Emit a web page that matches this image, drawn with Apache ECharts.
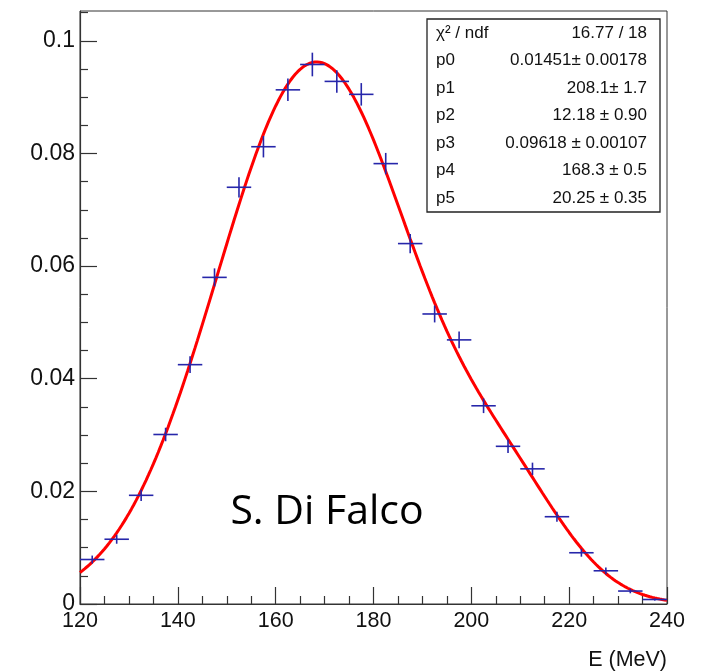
<!DOCTYPE html>
<html><head><meta charset="utf-8">
<script src="https://cdn.jsdelivr.net/npm/echarts@6/dist/echarts.min.js"></script>
<style>html,body{margin:0;padding:0;background:#fff}#c{width:703px;height:672px}</style>
</head><body><div id="c"></div>
<script>
// ---- data ----
const binCenters = [122.5,127.5,132.5,137.5,142.5,147.5,152.5,157.5,162.5,167.5,172.5,177.5,182.5,187.5,192.5,197.5,202.5,207.5,212.5,217.5,222.5,227.5,232.5,237.5];
const binHalfWidth = 2.5;
const counts = [0.0079,0.0115,0.0193,0.0301,0.0425,0.0580,0.0740,0.0812,0.0913,0.0958,0.0928,0.0905,0.0782,0.0640,0.0515,0.0469,0.0352,0.0280,0.0240,0.0155,0.0091,0.0059,0.0023,0.0008];
const errors = [0.0007,0.0008,0.0010,0.0012,0.0015,0.0016,0.0018,0.0019,0.0020,0.0021,0.0020,0.0020,0.0019,0.0017,0.0015,0.0015,0.0013,0.0012,0.0011,0.0009,0.0007,0.0006,0.0004,0.0002];
const xTicks = [120,140,160,180,200,220,240];
const yTicks = [0,0.02,0.04,0.06,0.08,0.1];
const yTickLabels = ['0','0.02','0.04','0.06','0.08','0.1'];
const yMinorTicks = [0.005,0.01,0.015,0.025,0.03,0.035,0.045,0.05,0.055,0.065,0.07,0.075,0.085,0.09,0.095,0.105];
// fit parameters shown in the stats box (sum of two Gaussians)
const fitParams = [0.01451,208.1,12.18,0.09618,168.3,20.25];
const fitRange = [120,240];
const statNames = ['χ² / ndf','p0','p1','p2','p3','p4','p5'];
const statValues = ['16.77 / 18','0.01451± 0.00178','208.1± 1.7','12.18 ± 0.90','0.09618 ± 0.00107','168.3 ± 0.5','20.25 ± 0.35'];
const xTitle = 'E (MeV)';
const watermark = 'S. Di Falco';

// ---- build ----
const points = binCenters.map((x,i)=>[x,counts[i],errors[i]]);
function fitFn(x){
  const [a0,m0,s0,a1,m1,s1]=fitParams;
  return a0*Math.exp(-0.5*Math.pow((x-m0)/s0,2))+a1*Math.exp(-0.5*Math.pow((x-m1)/s1,2));
}
const curve=[];
for(let x=fitRange[0]; x<=fitRange[1]+1e-9; x+=0.5) curve.push([x,fitFn(x)]);

const FONT='Liberation Sans';
const TXT='#111';
const yMax=0.1053;
const chart=echarts.init(document.getElementById('c'),null,{renderer:'canvas'});
const gx=80, gr=667, gt=11, gb=604;
const graphics=[];
// stats box
graphics.push({type:'rect',shape:{x:427,y:19,width:233,height:193},style:{fill:'#fff',stroke:'#222',lineWidth:1.3},z:100});
statNames.forEach((n,i)=>{
  const yy=33+i*27.5;
  graphics.push({type:'text',x:436,y:yy,style:{text:n,font:'17px '+FONT,fill:TXT,align:'left',verticalAlign:'middle'},z:101});
  graphics.push({type:'text',x:647,y:yy,style:{text:statValues[i],font:'17px '+FONT,fill:TXT,align:'right',verticalAlign:'middle'},z:101});
});
graphics.push({type:'text',x:gr,y:660,style:{text:xTitle,font:'21.5px '+FONT,fill:TXT,align:'right',verticalAlign:'middle'},z:101});
graphics.push({type:'text',x:327,y:512,style:{text:watermark,font:'41px "Open Sans"',fill:'#000',align:'center',verticalAlign:'middle'},z:101});

chart.setOption({
  animation:false,
  backgroundColor:'#fff',
  grid:{left:gx,right:703-gr,top:gt,bottom:672-gb,show:true,borderColor:'#333',borderWidth:1,backgroundColor:'transparent'},
  xAxis:{type:'value',min:fitRange[0],max:fitRange[1],interval:20,
    axisLine:{show:true,onZero:false,lineStyle:{color:'#333',width:1.2}},
    axisTick:{show:true,inside:true,length:17,lineStyle:{color:'#333',width:1.2}},
    minorTick:{show:true,splitNumber:4,length:8,lineStyle:{color:'#333',width:1.2}},
    axisLabel:{color:TXT,fontSize:21.5,fontFamily:FONT,margin:6,formatter:v=>xTicks.includes(v)?String(v):''},
    splitLine:{show:false}},
  yAxis:[
    {type:'value',min:0,max:yMax,position:'left',
     axisLine:{show:true,onZero:false,lineStyle:{color:'#333',width:1.2}},
     axisTick:{show:true,inside:true,length:17,customValues:yTicks,lineStyle:{color:'#333',width:1.2}},
     axisLabel:{color:TXT,fontSize:23,fontFamily:FONT,margin:5,customValues:yTicks,
       formatter:v=>{const k=yTicks.findIndex(t=>Math.abs(t-v)<1e-9);return k>=0?yTickLabels[k]:'';}},
     splitLine:{show:false}},
    {type:'value',min:0,max:yMax,position:'left',offset:0,
     axisLine:{show:false},
     axisTick:{show:true,inside:true,length:8,customValues:yMinorTicks,lineStyle:{color:'#333',width:1.2}},
     axisLabel:{show:false},splitLine:{show:false}}
  ],
  series:[
    {type:'line',data:curve,showSymbol:false,symbol:'none',smooth:false,
     lineStyle:{color:'#ff0000',width:3},z:3,clip:true},
    {type:'custom',data:points,encode:{x:0,y:1},z:4,
     renderItem:(params,api)=>{
       const x=api.value(0),y=api.value(1),e=api.value(2);
       const l=api.coord([x-binHalfWidth,y]),r=api.coord([x+binHalfWidth,y]);
       const t=api.coord([x,y+e]),b=api.coord([x,y-e]);
       const st={stroke:'#2626aa',lineWidth:1.6};
       return {type:'group',children:[
         {type:'line',shape:{x1:l[0],y1:l[1],x2:r[0],y2:r[1]},style:st},
         {type:'line',shape:{x1:t[0],y1:t[1],x2:b[0],y2:b[1]},style:st}
       ]};
     }}
  ],
  graphic:graphics
});
</script></body></html>
